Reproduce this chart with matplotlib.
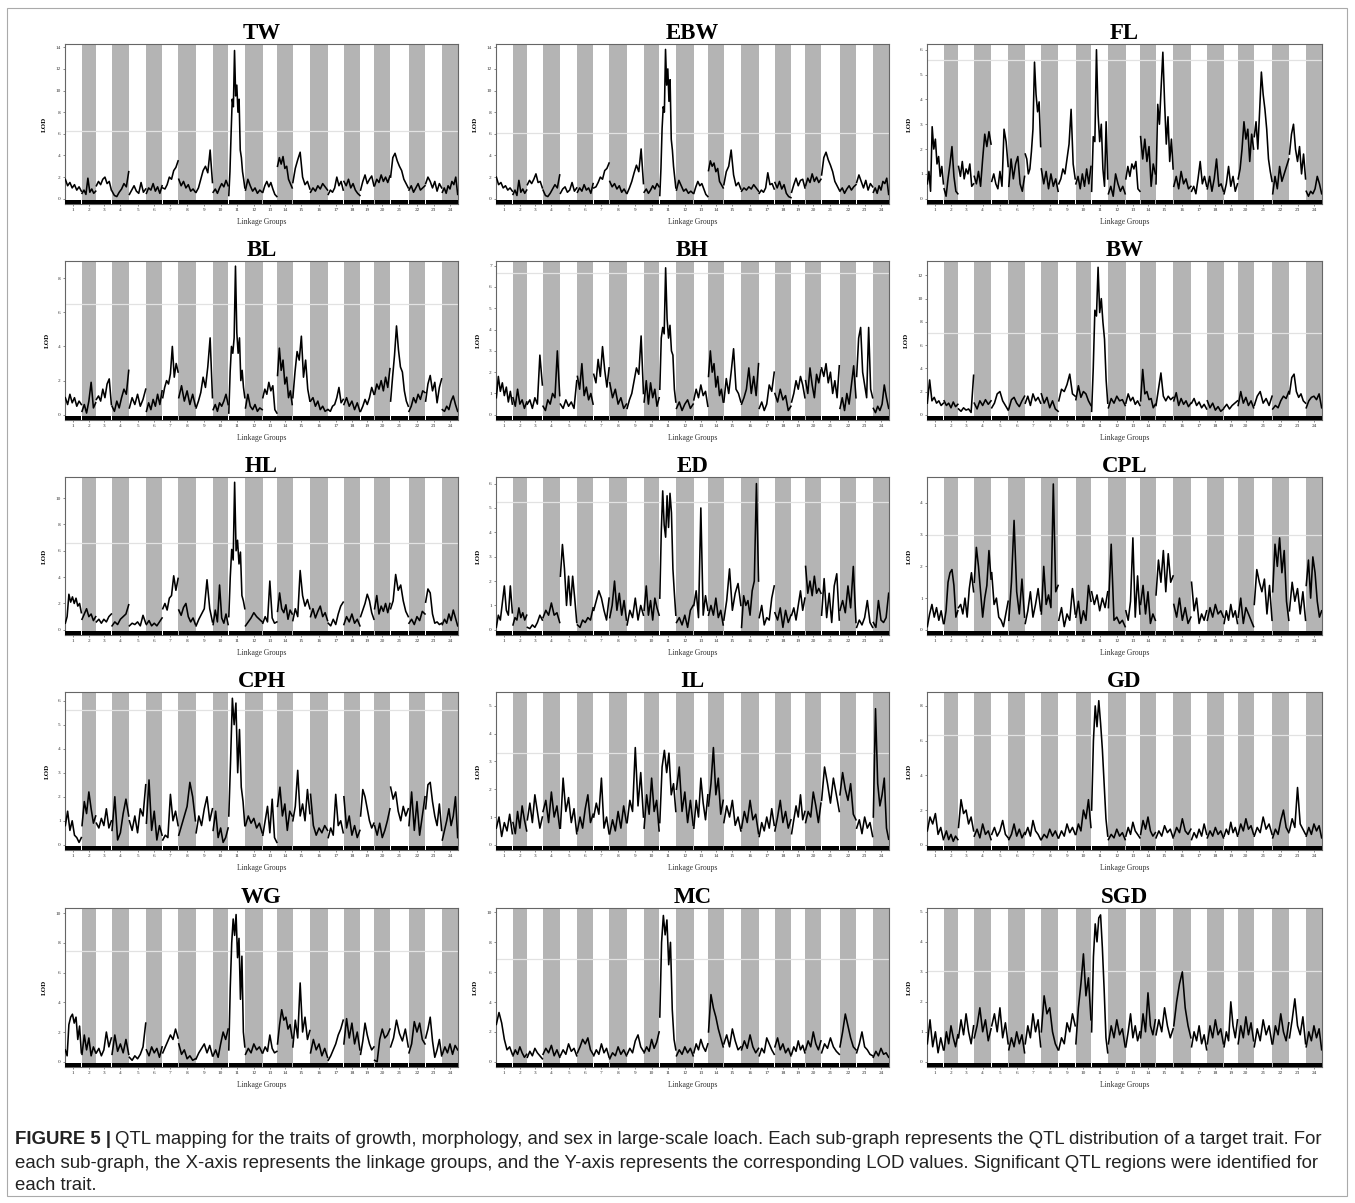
import numpy as np
import matplotlib
matplotlib.use('Agg')
import matplotlib.pyplot as plt
from matplotlib.patches import Rectangle

# linkage groups (length of each group on the x axis)
group_labels = [str(i) for i in range(1, 25)]
group_len = [50, 43, 47, 52, 51, 49, 48, 52, 51, 47, 50, 52,
             44, 46, 53, 53, 47, 50, 42, 48, 55, 50, 50, 48]

traits = ['TW', 'EBW', 'FL', 'BL', 'BH', 'BW', 'HL', 'ED', 'CPL',
          'CPH', 'IL', 'GD', 'WG', 'MC', 'SGD']

# LOD readings along each linkage group, per trait
lod_TW = [[1.8,1.2,1.5,1.0,1.3,0.8,1.1,0.7],[0.5,0.8,0.4,1.9,0.6,0.9,0.5,0.7],[1.2,1.6,1.3,1.8,2.0,1.4,1.6,0.8],
          [0.7,0.3,0.2,0.6,0.9,1.4,1.1,2.5],[0.4,0.8,1.2,0.7,0.5,1.5,0.6,0.9],[0.5,1.0,0.8,1.4,0.7,1.1,0.5,1.2],
          [1.0,0.9,1.3,2.0,1.8,2.6,2.9,3.5],[1.8,1.2,1.6,1.0,1.3,0.7,0.9,0.6],[0.6,1.0,1.8,2.6,3.0,2.4,4.5,1.5],
          [0.6,0.9,0.5,1.0,1.4,1.1,1.7,1.2],[0.3,2.5,6.0,9.2,8.5,13.7,9.5,10.5,8.0,9.2,4.5,3.8,2.5,1.8,1.0],
          [0.8,1.8,1.2,0.7,1.0,0.5,0.8,0.6],[0.6,1.2,1.6,1.1,1.5,0.9,0.4,0.2],[3.0,3.8,3.2,3.9,2.8,3.0,1.8,1.4,1.0],
          [1.5,2.8,3.6,4.3,2.0,1.3,1.6,0.9],[0.6,1.0,0.7,1.2,0.9,1.4,1.1,0.8],[0.4,0.8,0.6,1.0,2.0,1.2,1.6,0.8],
          [1.6,1.2,1.8,1.0,1.4,0.8,0.5,0.3],[0.8,1.6,2.2,1.4,1.8,2.1,1.2],[1.2,1.8,1.5,2.2,1.6,2.0,1.5,2.1],
          [2.0,3.8,4.2,3.5,3.0,2.6,1.8,1.4,1.0],[0.8,1.2,0.6,1.0,1.4,0.8,1.0,1.2],[1.4,2.0,1.6,1.0,1.6,0.7,1.4,1.0],
          [0.6,1.0,0.5,1.2,0.9,1.6,1.3,2.0,0.4]]
lod_EBW = [[2.0,1.3,1.5,1.0,1.2,0.8,1.0,0.7],[0.4,0.8,0.3,1.7,0.6,0.9,0.5,0.8],[1.3,1.7,1.4,1.8,2.3,1.5,1.6,1.0],
           [0.8,0.3,0.2,0.5,0.9,1.3,1.0,2.2],[0.5,0.9,1.1,0.6,0.8,1.5,0.7,1.0],[0.6,1.0,0.7,1.3,0.8,1.0,0.5,1.4],
           [1.0,1.1,1.5,2.0,1.8,2.6,2.8,3.3],[1.6,1.1,1.4,0.9,1.2,0.6,0.9,0.5],[0.5,1.0,1.6,2.4,3.1,2.5,4.6,1.4],
           [0.6,0.9,0.5,0.8,1.2,0.9,1.4,1.1],[0.3,2.8,6.5,8.5,8.0,13.8,10.5,12.0,9.0,11.0,5.5,4.5,3.0,2.0,1.0],
           [0.8,1.7,1.2,0.7,0.9,0.5,0.7,0.5],[0.5,1.1,1.6,1.2,1.4,0.9,0.4,0.2],[2.6,3.5,3.0,3.3,2.5,2.8,1.6,1.3,1.0],
           [1.3,2.5,3.0,4.5,2.2,1.2,1.5,0.9],[0.7,1.0,0.8,1.1,0.9,1.3,1.0,0.7],[0.5,0.8,0.6,1.0,2.4,1.3,1.4,0.9],
           [1.5,1.0,1.6,0.9,1.3,0.5,0.2,0.1],[0.6,1.3,1.9,1.2,1.7,1.8,1.0],[1.2,1.9,1.5,2.3,1.6,2.0,1.5,1.8],
           [2.2,3.8,4.3,3.6,3.1,2.5,1.6,1.2,0.8],[0.7,1.0,0.5,0.9,1.2,0.8,1.1,1.3],[1.5,2.2,1.6,1.0,1.7,0.8,1.4,1.1],
           [0.6,1.0,0.5,1.2,0.8,1.6,1.4,1.9,0.4]]
lod_FL = [[0.6,1.1,0.3,2.9,2.0,2.4,1.4,1.7,0.9,1.3,0.6],[0.4,0.1,0.8,1.4,2.1,0.9,0.3,0.2],[1.3,0.9,1.5,0.8,1.2,1.0,1.4,0.5,0.6],
          [0.9,0.6,1.1,0.5,1.6,2.6,2.1,2.7,2.2],[0.7,1.0,0.6,0.4,1.1,0.5,2.8,2.3,1.3],[0.5,1.6,0.8,1.4,1.7,0.6,0.3,0.9],
          [1.8,1.6,1.0,1.2,1.9,2.8,5.5,4.2,3.5,3.9,2.1],[1.2,0.6,1.1,0.4,1.0,0.5,0.8,0.3],[0.6,0.8,1.2,1.0,1.6,2.2,3.6,1.4,0.8],
          [0.6,0.9,0.4,1.0,0.5,1.2,0.6,1.3],[0.3,2.5,2.3,6.0,3.4,2.3,3.0,1.2,0.5,3.1,0.8],[0.2,0.5,0.1,1.0,0.6,0.3,0.5,0.2],
          [0.8,1.3,0.9,1.4,1.2,1.5,0.4,0.3],[2.5,1.6,2.4,1.5,2.1,0.5,1.4,1.0],[0.6,3.8,3.0,4.5,5.9,3.9,2.2,3.3,1.5,2.4,1.2],
          [0.5,0.9,0.4,1.1,0.6,0.8,0.4,0.5],[0.3,0.5,0.2,0.8,1.5,0.6,0.9,0.5],[0.4,0.9,0.3,0.8,1.6,0.5,0.6,0.3],
          [0.2,0.6,1.3,0.5,0.9,0.3,0.6],[0.8,1.2,2.0,3.1,2.4,2.8,1.5,2.6,2.0],[2.5,3.1,2.0,3.5,5.1,4.2,3.6,2.8,1.6,1.1,0.7],
          [0.2,0.9,0.4,1.3,0.7,1.0,1.3,1.6],[1.8,2.6,3.0,2.0,1.5,2.1,1.0,1.8,0.8],[0.3,0.1,0.3,0.2,0.4,0.9,0.6,0.2]]
lod_BL = [[1.0,0.6,1.2,0.7,1.0,0.5,0.8,0.6],[0.2,0.6,0.1,0.8,1.9,0.4,0.7],[0.9,1.1,0.8,1.5,1.0,1.8,2.1,0.6],
          [0.5,0.2,0.8,0.4,1.0,1.5,1.2,2.6],[0.4,1.0,0.6,1.2,0.5,0.9,1.5],[0.2,0.7,0.3,0.9,0.5,1.2,0.6,1.4],
          [1.0,1.6,2.0,1.8,2.4,4.0,2.2,3.0,2.5],[1.0,1.7,0.8,1.4,0.6,1.2,0.5],[0.4,0.8,1.3,2.2,1.6,2.8,4.5,1.0],
          [0.3,0.6,0.2,0.7,0.5,0.8,1.2,0.6],[0.1,2.5,4.0,3.6,4.5,8.7,4.8,3.6,4.5,2.0,2.6,1.6,1.0],
          [0.4,1.2,0.5,0.3,0.6,0.2,0.4,0.3],[1.0,1.5,1.2,1.9,1.4,1.7,0.3,0.1],[2.3,3.9,2.6,3.2,1.8,2.2,1.0,1.4,0.6],
          [1.0,2.5,3.7,3.2,4.6,2.2,3.2,1.5,0.8],[0.8,1.0,0.5,0.8,0.3,0.5,0.2,0.3],[0.3,0.2,0.5,0.6,1.0,1.6,0.7,0.9],
          [0.6,1.0,0.5,0.8,0.3,0.7,0.2],[0.2,0.5,0.9,0.6,1.0,1.6,1.2],[1.2,1.8,1.5,2.0,1.4,2.2,1.6,2.7],
          [0.8,2.2,3.5,5.2,3.8,2.8,2.5,1.4,0.8,0.5],[0.2,0.5,1.0,0.7,1.2,0.9,1.4,1.3],[0.8,1.8,2.3,1.4,1.9,0.7,1.6,2.1],
          [0.3,0.2,0.5,0.3,0.8,1.1,0.6,0.2]]
lod_BH = [[0.8,1.8,1.1,1.5,0.9,1.3,0.6,1.1,0.5],[0.8,0.4,1.2,0.5,0.7,0.3,0.6],[0.5,0.7,0.3,0.8,0.5,2.8,1.4],
          [0.4,0.2,0.7,0.5,1.0,0.8,3.0,0.9],[0.5,0.3,0.7,0.4,0.6,0.3,1.6],[1.8,1.2,2.4,0.9,1.3,0.7,1.0,0.5],
          [1.9,1.5,2.6,1.8,3.2,2.1,1.3,2.2],[1.5,0.8,1.2,0.5,0.8,0.3,0.5],[0.3,0.7,1.0,1.6,2.2,1.9,3.7,1.0],
          [0.6,1.6,0.5,1.5,0.8,1.2,0.4,0.8],[1.2,3.6,4.1,3.8,6.9,4.5,3.6,4.2,3.0,2.8,1.2,0.6],
          [0.3,0.6,0.2,0.5,0.7,0.3,0.5],[0.7,1.2,0.8,1.4,0.9,1.1,0.4],[1.8,3.0,2.0,2.4,1.3,1.8,0.9,1.2,0.6],
          [0.6,1.7,1.0,2.0,3.1,1.2,1.0,0.6],[0.5,0.8,1.2,2.2,1.0,1.8,0.9,2.4],[0.3,0.6,0.2,0.5,1.4,1.1,2.0],
          [1.0,0.6,1.2,0.7,0.9,0.2,0.4],[0.6,1.0,1.6,1.2,1.8,1.4,0.8],[1.6,1.0,2.2,1.4,0.8,1.9,1.5,2.1],
          [2.2,1.8,2.4,1.5,2.0,1.0,1.6,0.8,2.3],[0.3,0.8,0.2,1.0,0.5,1.4,2.3,0.8],[1.8,3.6,4.1,2.0,1.4,0.8,4.1,1.2,0.8],
          [0.3,0.1,0.4,0.2,0.5,1.4,0.8,0.3]]
lod_BW = [[1.0,3.0,1.2,1.5,1.0,1.2,0.8,1.0],[1.2,0.8,1.0,0.6,1.1,0.7,0.9],[0.5,0.3,0.6,0.4,0.5,0.2,3.4],
          [1.0,0.5,1.2,0.8,1.3,0.9,1.2],[0.6,1.0,1.8,2.0,1.2,0.8,0.4],[0.5,1.3,1.5,1.0,0.7,1.2,1.6],
          [1.0,1.6,0.8,1.8,1.2,1.5,1.0],[1.8,1.0,1.5,0.6,1.2,0.5,0.3],[1.2,2.2,2.0,2.6,3.5,1.8,1.6],
          [1.3,2.5,1.5,2.0,1.8,1.2,0.8],[0.3,4.0,9.0,8.5,12.7,8.8,10.0,8.0,6.5,3.0,1.0],
          [0.6,1.4,1.0,1.6,1.2,1.3,0.8],[1.0,1.8,1.2,1.5,0.9,1.2,0.8],[1.2,3.9,1.8,2.0,1.3,1.4,0.6,0.9],
          [0.8,2.2,3.6,1.6,1.2,1.6,1.3,1.5],[1.2,1.9,0.8,1.4,0.9,1.2,0.7,1.0],[1.0,1.4,0.8,1.1,0.6,0.9,0.5],
          [1.2,0.6,1.0,0.4,0.7,0.3,0.5],[0.6,0.9,0.5,0.8,1.0,1.2],[0.8,2.0,1.0,1.5,0.8,1.2,0.6],
          [0.8,1.6,2.0,1.0,1.4,0.8,1.6],[0.5,0.8,0.6,1.2,1.6,1.4,2.0],[1.8,3.2,3.5,2.0,1.5,1.8,1.2,1.0],
          [0.6,1.2,1.5,1.6,1.3,1.8,0.6]]
lod_HL = [[0.5,1.0,2.7,2.1,2.5,2.0,2.4,1.8,2.0,1.3],[0.8,1.2,1.6,1.0,1.2,0.7,1.0],[0.6,0.8,0.5,0.8,0.6,1.0,1.2],
          [0.3,0.6,0.4,0.8,1.0,1.2,1.9],[0.3,0.5,0.4,0.6,0.3,1.1,0.5],[0.4,0.7,0.3,0.5,0.3,0.6,0.9],
          [1.6,2.0,1.5,2.4,2.6,4.1,3.0,3.9],[1.5,1.1,1.7,2.0,1.0,0.6,0.9,0.4],[0.3,0.8,1.2,1.6,3.8,1.6,0.6],
          [0.4,1.5,0.6,3.4,0.9,0.5,1.2,0.4],[1.0,4.0,6.1,5.3,11.2,6.0,6.8,5.0,5.9,2.6,2.2,1.6],
          [0.3,0.6,0.9,1.3,1.0,0.8,0.6],[0.5,1.0,0.6,3.7,0.9,0.5,0.6],[1.4,2.8,1.6,1.3,1.9,0.8,1.5,1.2],
          [0.7,1.6,1.0,4.5,2.6,1.8,2.3,1.6],[1.0,1.6,0.9,1.4,1.8,1.0,1.3,0.7],[0.5,0.3,0.8,0.4,1.2,1.8,2.1],
          [0.4,1.0,0.6,1.2,0.5,0.8,0.3],[1.0,1.5,2.0,2.7,2.2,1.3,0.8],[1.6,2.6,1.2,1.8,1.4,2.0,1.3,2.0],
          [1.6,2.2,4.2,3.0,3.4,2.2,1.4,1.0],[0.5,0.8,0.4,1.0,0.7,1.4,1.2],[2.1,3.1,2.8,1.2,0.5,0.6,0.4,0.5],
          [0.4,0.8,0.5,1.2,0.7,1.5,0.9,0.3]]
lod_ED = [[0.1,0.6,0.4,1.1,1.8,0.8,0.6,1.8,0.7],[0.2,0.5,0.4,0.9,0.5,0.7,0.4,0.6],[0.1,0.05,0.2,0.1,0.3,0.6,0.4],
          [0.5,0.8,0.6,1.1,0.6,0.7,0.3],[2.2,3.5,2.5,1.0,2.2,1.0,2.2,1.3,0.3],[0.2,0.1,0.4,0.3,0.5,0.4,0.9],
          [0.8,1.2,1.6,1.3,0.8,0.4,1.3],[0.5,1.0,2.0,0.8,1.5,0.6,1.2,0.4],[0.2,0.8,0.5,1.3,0.4,1.0,0.6],
          [0.8,1.8,0.6,1.2,0.4,1.3,0.9,0.6],[1.3,4.0,5.7,4.3,3.8,5.5,4.2,5.6,4.8,2.5,1.5,0.6],
          [0.3,0.5,0.2,0.6,0.1,0.8,1.0],[1.0,1.6,0.5,5.0,0.6,1.4,0.8],[0.6,1.0,0.6,1.3,0.5,0.8,0.2],
          [0.4,1.2,2.5,0.8,1.5,1.9,1.0],[0.1,1.4,1.0,1.2,0.6,1.6,2.0,6.0,2.0],[0.5,1.0,0.2,0.5,0.4,1.3,1.8],
          [0.7,0.4,0.9,0.1,0.8,0.3,0.6],[0.6,0.9,0.4,1.0,1.6,0.8,1.3],[2.6,1.5,2.0,1.4,2.2,1.5,1.7,1.5],
          [0.6,2.1,0.5,1.5,0.3,1.8,2.3,0.4],[0.8,1.2,0.7,1.8,0.9,2.6,0.3],[0.1,0.4,0.2,0.5,1.2,0.3,0.1],
          [0.3,0.1,1.2,0.4,0.3,0.5,1.5]]
lod_CPL = [[0.1,0.5,0.8,0.4,0.7,0.3,0.6,0.2],[0.2,0.6,1.5,1.8,1.9,1.4,0.4,0.6],[0.7,0.8,0.5,1.0,0.4,1.3,1.8,1.2],
           [1.5,2.6,2.0,1.2,0.4,1.0,1.4,2.5,1.6],[1.8,0.8,1.0,0.4,0.3,0.1,0.5,0.9],[0.3,1.5,3.45,1.2,0.5,1.6,0.4],
           [0.2,0.6,1.2,0.4,0.8,1.3,0.6],[0.5,2.0,0.8,1.1,0.7,4.6,1.2,1.4],[0.3,0.7,0.1,0.5,0.3,1.3,0.5],
           [0.4,0.9,0.2,0.6,0.3,1.4,0.9],[1.2,0.8,1.1,0.6,1.0,0.7,1.2],[0.7,2.7,0.3,0.4,0.2,0.3,0.1],
           [0.6,0.3,0.9,2.9,0.4,1.7,0.5],[0.8,1.4,0.5,1.2,0.2,0.5,0.3],[1.1,2.2,1.5,2.5,1.2,2.4,1.5,1.7],
           [0.8,0.4,1.0,0.3,0.7,0.2,0.4],[1.5,0.6,1.0,0.2,0.5,0.3,0.6],[0.3,0.7,0.4,0.8,0.5,0.6,0.4],
           [0.2,0.6,0.3,0.8,0.4,0.6,0.2],[0.4,1.0,0.2,0.7,0.5,0.3,0.1],[0.8,1.9,1.5,1.2,1.6,0.5,1.4,0.3],
           [1.2,2.7,2.0,2.9,1.8,2.5,0.9,0.3],[0.6,1.5,0.9,1.3,0.5,1.2,0.3],[1.4,2.2,1.0,2.3,1.8,0.9,0.4,0.6]]
lod_CPH = [[0.8,1.4,0.6,1.0,0.4,0.3,0.1,0.3],[0.8,1.8,1.3,2.2,1.5,0.9,1.2],[0.9,0.7,1.1,0.8,1.5,0.7,1.0],
           [0.6,2.0,0.2,0.5,1.3,1.9,1.2],[1.0,0.6,1.2,0.5,1.5,1.2,2.5],[0.9,2.7,0.6,1.4,0.2,0.8,0.4],
           [0.2,0.4,0.3,2.1,1.0,1.4,0.8],[0.4,0.8,1.2,1.6,2.6,2.0,1.0],[0.5,1.2,0.8,1.5,2.0,1.0,1.5],
           [0.6,1.4,0.3,0.7,0.1,0.3,0.7],[1.2,3.5,6.1,5.0,5.9,3.0,4.8,2.4,1.8,0.8],[0.8,1.2,0.9,1.1,0.7,0.9,0.5],
           [0.4,1.0,1.6,0.5,1.9,0.3,0.1],[1.6,2.4,1.2,1.7,0.6,1.4,1.2],[1.0,1.6,3.1,1.2,1.7,1.0,2.3,1.3],
           [2.1,0.8,0.4,0.7,0.5,0.8,0.6],[0.3,0.7,0.4,2.1,0.8,1.0,0.5],[2.0,0.7,1.2,0.4,0.8,0.3,0.6],
           [1.2,2.3,2.0,1.5,1.0,0.7,0.9],[0.8,0.4,0.9,0.3,0.6,1.0,1.5],[2.4,1.9,2.2,1.4,1.0,1.6,1.2,1.5],
           [0.8,2.2,0.6,1.8,0.4,1.2,2.0],[1.5,2.5,2.6,1.8,1.2,0.8,1.7,0.6],[0.2,0.6,1.0,1.5,0.8,1.2,2.0,0.3]]
lod_IL = [[0.6,1.0,0.3,0.8,0.5,1.1,0.4],[0.8,0.4,1.2,0.6,1.4,0.9,0.5],[0.9,1.5,0.8,1.8,1.2,0.6,1.0],
          [1.2,1.6,0.8,1.9,1.0,1.4,0.6],[0.6,2.4,1.2,1.7,0.8,1.3,0.4],[0.5,1.0,0.6,1.3,1.8,0.8,1.1],
          [1.0,1.5,1.1,2.4,0.6,1.0,0.4],[0.4,0.9,0.5,1.2,0.6,1.4,0.8],[0.8,1.6,1.2,3.5,1.4,2.6,1.0],
          [0.6,1.8,1.1,2.4,1.2,1.6,0.5],[0.8,2.8,3.4,2.6,3.3,1.8,2.2,1.2],[2.0,2.8,1.2,1.9,0.8,1.6,0.7],
          [0.6,1.6,1.0,2.4,1.5,0.9,1.8],[1.4,2.2,3.5,1.8,2.4,1.1,1.6],[0.8,1.4,1.0,1.6,0.7,1.0,0.5],
          [0.6,1.2,0.8,1.6,0.9,1.1,0.4],[0.3,0.8,0.5,1.0,0.6,1.3,0.7],[0.5,1.0,1.6,0.8,1.2,0.6,0.9],
          [0.4,0.9,1.4,1.0,1.8,0.9,1.2],[0.8,1.2,1.0,1.9,1.4,0.8,1.5],[1.6,2.8,2.2,1.5,2.4,1.8,1.2],
          [1.8,2.6,2.0,1.6,2.2,1.1,0.9],[0.6,0.9,0.4,1.0,0.6,0.8,0.3],[1.0,4.9,2.2,1.4,1.8,2.4,0.6,0.2]]
lod_GD = [[0.8,1.6,1.2,1.8,0.6,1.0,0.3],[0.4,0.8,0.3,0.6,0.2,0.5,0.3],[1.0,2.6,1.8,2.0,1.2,1.6,0.8],
          [0.5,0.9,0.4,1.2,0.6,0.8,0.3],[0.6,1.0,0.5,0.8,1.4,0.6,0.4],[0.3,0.6,1.2,0.5,0.9,0.4,0.7],
          [0.6,1.0,0.5,1.4,0.8,0.6,0.3],[0.3,0.6,0.4,0.9,0.5,0.8,0.4],[0.4,0.8,0.5,1.2,0.7,1.0,0.6],
          [0.6,1.2,0.8,2.0,1.5,2.6,1.0],[2.0,6.0,8.0,6.8,8.3,7.0,5.5,3.5,1.5,0.5],[0.3,0.6,0.4,0.9,0.5,0.7,0.3],
          [0.5,1.0,0.6,1.3,0.8,0.6,0.4],[0.6,1.4,0.9,1.6,0.8,0.5,0.7],[0.4,0.8,0.5,1.1,0.7,0.9,0.4],
          [0.5,1.0,0.7,1.5,0.8,0.6,0.9],[0.3,0.7,0.4,0.9,0.5,1.2,0.6],[0.4,0.8,0.5,1.0,0.6,0.8,0.4],
          [0.5,0.9,0.6,1.3,0.7,1.0,0.5],[0.6,1.2,0.8,1.5,0.9,1.1,0.6],[0.5,1.0,0.7,1.6,0.9,1.2,0.6],
          [0.4,0.9,0.6,1.4,2.0,1.0,0.7],[0.8,1.5,1.0,3.3,1.2,0.9,0.6],[0.5,1.0,0.6,1.2,0.8,1.1,0.4]]
lod_WG = [[0.8,0.4,2.5,3.0,3.2,2.6,3.0,1.5,2.4,0.6],[0.5,1.8,0.8,1.6,0.4,1.0,0.6],[0.6,0.9,0.4,0.8,2.0,1.0,1.6],
          [0.5,1.8,0.7,1.2,0.6,1.5,0.5],[0.3,0.1,0.4,0.2,0.5,1.0,2.6],[0.8,0.4,1.0,0.6,0.9,0.3,1.0],
          [0.6,1.0,1.4,1.8,1.5,2.2,1.6],[1.2,0.5,0.8,0.2,0.4,0.1,0.2],[0.2,0.6,0.9,1.2,0.6,1.1,0.4],
          [0.4,0.8,0.3,1.2,2.0,1.5,2.2],[0.8,5.0,8.0,9.6,8.5,9.9,7.0,8.3,4.2,7.1,2.0,1.0],
          [0.5,0.9,0.6,1.2,0.8,1.0,0.6],[0.6,1.0,0.7,1.8,0.9,0.6,0.7],[1.2,2.5,3.5,2.8,3.0,2.2,2.5,1.6],
          [1.0,2.8,1.6,5.3,2.0,3.0,1.5,2.1],[0.6,1.5,0.8,1.2,0.4,0.9,0.3],[0.1,0.4,0.8,1.2,1.8,2.2,2.8],
          [1.2,2.9,1.6,2.6,1.2,2.0,0.8],[0.5,1.4,2.6,1.8,1.2,0.8,1.0],[0.1,0.0,1.5,2.2,1.6,1.8,2.2],
          [1.0,1.6,2.8,1.9,1.4,2.2,1.0],[0.6,1.2,2.7,2.0,2.6,1.5,1.2],[1.6,2.2,3.0,1.4,0.3,0.8,1.5,0.4],
          [0.5,1.0,0.6,1.2,0.5,1.1,0.8]]
lod_MC = [[2.5,3.3,2.6,1.5,0.8,1.0,0.5],[0.4,0.8,0.5,1.0,0.6,0.3,0.5],[0.3,0.7,0.4,0.9,0.6,0.4,0.2],
          [0.5,0.9,0.6,1.1,0.4,0.8,0.3],[0.4,0.8,0.5,1.2,0.7,0.9,0.4],[0.6,1.0,1.5,1.2,1.6,0.8,0.5],
          [0.4,0.8,0.5,1.2,0.6,0.9,0.3],[0.2,0.6,0.4,1.0,0.5,0.8,0.4],[0.5,0.9,0.6,1.4,1.8,1.0,0.7],
          [0.6,1.0,0.7,1.5,0.9,1.3,2.0],[3.0,8.0,9.8,8.5,9.5,6.5,8.0,3.5,1.5,0.8],[0.4,0.8,0.5,1.0,0.6,0.9,0.4],
          [0.6,1.2,0.8,1.5,1.0,0.7,1.2],[2.0,4.5,3.6,3.0,2.2,1.6,1.0],[1.2,1.8,1.0,2.2,1.4,0.8,1.0],
          [0.8,1.4,0.9,1.8,1.0,0.6,0.9],[0.4,0.9,0.6,1.6,1.2,0.8,0.5],[1.0,1.6,0.8,1.2,0.6,0.9,0.4],
          [0.5,1.0,0.7,1.4,0.8,1.1,0.6],[0.8,1.4,1.0,2.0,1.2,0.8,1.4],[0.6,1.2,0.9,1.6,1.0,0.7,0.5],
          [1.0,2.0,3.2,2.4,1.6,1.0,0.8],[0.6,1.2,2.0,1.0,0.8,0.5,0.4],[0.3,0.7,0.4,0.9,0.5,0.6,0.3]]
lod_SGD = [[0.6,1.4,0.5,1.0,0.3,0.8,0.4],[0.4,1.0,0.6,1.2,0.8,0.5,0.9],[0.8,1.4,0.9,1.6,1.0,0.6,1.2],
           [0.8,1.2,1.8,1.0,1.4,0.7,1.1],[1.2,1.6,1.0,1.8,0.8,1.3,0.6],[0.4,0.8,0.5,1.0,0.6,0.9,0.3],
           [0.6,1.2,0.8,1.6,1.0,1.4,0.5],[1.0,2.2,1.6,1.8,1.0,0.6,0.4],[0.4,0.8,0.6,1.3,1.0,1.6,1.2],
           [0.6,1.8,2.6,3.6,2.2,2.8,1.4],[1.0,3.5,4.6,4.0,4.8,4.9,3.8,2.4,0.8,0.3],[0.6,1.2,0.8,1.4,0.9,1.1,0.5],
           [0.5,1.0,1.6,0.8,1.2,0.7,1.0],[0.8,1.6,1.0,2.3,1.2,0.9,1.4],[0.9,1.4,1.0,1.8,1.2,0.8,1.1],
           [1.2,2.0,2.6,3.0,1.8,1.2,0.8],[0.5,1.0,0.7,1.2,0.6,0.9,0.4],[0.6,1.2,0.8,1.4,0.9,1.1,0.6],
           [0.5,1.0,0.7,2.0,1.2,0.8,1.4],[0.6,1.2,0.8,1.5,0.9,1.3,0.7],[0.5,1.1,0.7,1.4,0.9,1.2,0.6],
           [0.6,1.2,0.9,1.6,1.0,0.7,1.3],[0.8,1.4,2.1,1.2,0.9,1.5,0.6],[0.5,1.0,0.7,1.2,0.8,1.1,0.4]]

lod_all = [lod_TW, lod_EBW, lod_FL, lod_BL, lod_BH, lod_BW, lod_HL, lod_ED, lod_CPL,
           lod_CPH, lod_IL, lod_GD, lod_WG, lod_MC, lod_SGD]

thresholds = [6.3, 6.1, 5.57, 6.5, 6.64, 7.0, 6.6, 5.25, 3.0, 5.6, 3.3, 6.3, 7.46, 6.9, 3.03]
y_top = [14.3, 14.3, 6.23, 9.0, 7.22, 13.24, 11.6, 6.27, 4.82, 6.36, 5.5, 8.8, 10.34, 10.3, 5.13]
tick_max = [14, 14, 6, 8, 7, 12, 10, 6, 4, 6, 5, 8, 10, 10, 5]
tick_step = [2, 2, 1, 2, 1, 2, 2, 1, 1, 1, 1, 2, 2, 2, 1]

caption_bold = 'FIGURE 5 |'
caption_lines = [
    'QTL mapping for the traits of growth, morphology, and sex in large-scale loach. Each sub-graph represents the QTL distribution of a target trait. For',
    'each sub-graph, the X-axis represents the linkage groups, and the Y-axis represents the corresponding LOD values. Significant QTL regions were identified for',
    'each trait.',
]

W, H = 1355, 1203
fig = plt.figure(figsize=(W / 100, H / 100), dpi=100)
serif = ['Liberation Serif', 'DejaVu Serif']

col_left = [65, 496, 927]
col_right = [458, 889, 1322]
row_top = [44, 261, 477, 692, 908]
row_bot = [204, 420, 635, 850, 1067]

ends = np.cumsum(group_len)
starts = ends - np.array(group_len)
centers = (starts + ends) / 2

for k, name in enumerate(traits):
    r, c = divmod(k, 3)
    ax = fig.add_axes([col_left[c] / W, 1 - row_bot[r] / H,
                       (col_right[c] - col_left[c]) / W, (row_bot[r] - row_top[r]) / H])
    lo = -0.034 * y_top[k]
    ax.set_xlim(0, ends[-1])
    ax.set_ylim(lo, y_top[k])

    for g in range(24):
        if g % 2 == 1:
            ax.axvspan(starts[g], ends[g], color='#b4b4b4', lw=0, zorder=0)
        vals = lod_all[k][g]
        xs = np.linspace(starts[g] + 1, ends[g] - 1, len(vals))
        ax.plot(xs, vals, color='black', lw=1.15, zorder=3)
        # marker bar under each group
        ax.add_patch(Rectangle((starts[g] + 0.8, 0.003), group_len[g] - 1.6, 0.024,
                               transform=ax.get_xaxis_transform(), color='black', lw=0, zorder=4))

    ax.axhline(thresholds[k], color='#e2e2e2', lw=0.9, zorder=2)

    ax.set_xticks(centers)
    ax.set_xticklabels(group_labels, fontsize=3.8, family=serif)
    yt = np.arange(0, tick_max[k] + 0.1, tick_step[k])
    ax.set_yticks(yt)
    ax.set_yticklabels([str(int(v)) for v in yt], fontsize=3.8, family=serif)
    ax.tick_params(length=1.5, width=0.4, pad=1.5, colors='#333333')
    for s in ax.spines.values():
        s.set_color('#666666')
        s.set_linewidth(0.8)
    ax.set_title(name, fontsize=16.5, fontweight='bold', family=serif, pad=2)
    ax.set_xlabel('Linkage Groups', fontsize=5.5, family=serif, labelpad=4, color='#333333')
    ax.set_ylabel('LOD', fontsize=5, fontweight='bold', family=serif, labelpad=6)

# outer frame of the figure
fig.add_artist(Rectangle((7 / W, 1 - 1196 / H), 1340 / W, 1188 / H, transform=fig.transFigure,
                         fill=False, edgecolor='#aaaaaa', lw=0.8))

# caption
renderer = fig.canvas.get_renderer()
cap_font = ['Liberation Sans', 'DejaVu Sans']
cap_size = 13.4
cap_y = [1140, 1163, 1185]
tb = fig.text(15 / W, 1 - cap_y[0] / H, caption_bold, fontsize=cap_size, fontweight='bold',
              family=cap_font, va='center', color='#222222')
bb = tb.get_window_extent(renderer)
fig.text((bb.x1 + 4) / W, 1 - cap_y[0] / H, caption_lines[0], fontsize=cap_size,
         family=cap_font, va='center', color='#222222')
for i in (1, 2):
    fig.text(15 / W, 1 - cap_y[i] / H, caption_lines[i], fontsize=cap_size,
             family=cap_font, va='center', color='#222222')

fig.savefig('out.png', dpi=100)
